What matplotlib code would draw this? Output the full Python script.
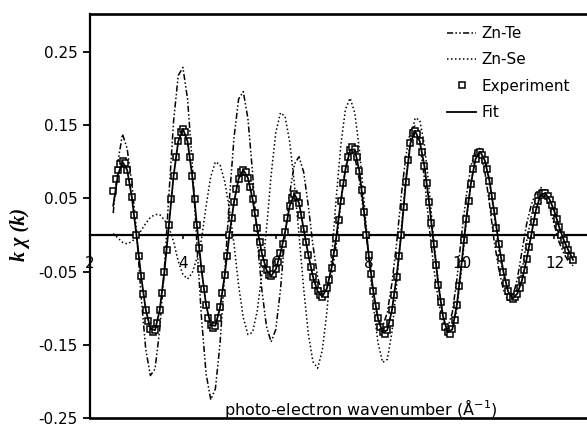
import numpy as np
import matplotlib
matplotlib.use('Agg')
import matplotlib.pyplot as plt

plt.rcParams['font.family'] = ['DejaVu Sans']
plt.rcParams['mathtext.default'] = 'regular'

# experiment (k grid 2.50 .. 12.40, step 0.05)
k_exp = np.linspace(2.5, 12.4, 199)
chi_exp = [
    0.060, 0.076, 0.089, 0.097, 0.101, 0.099, 0.089, 0.073, 0.052, 0.027,
    0.000, -0.029, -0.056, -0.081, -0.102, -0.118, -0.128, -0.133, -0.130, -0.120,
    -0.103, -0.079, -0.051, -0.020, 0.014, 0.049, 0.081, 0.107, 0.128, 0.141,
    0.145, 0.141, 0.128, 0.107, 0.081, 0.049, 0.014, -0.018, -0.047, -0.074,
    -0.096, -0.113, -0.123, -0.127, -0.124, -0.114, -0.099, -0.079, -0.055, -0.028,
    0.000, 0.023, 0.045, 0.063, 0.077, 0.086, 0.089, 0.086, 0.078, 0.066,
    0.049, 0.030, 0.009, -0.010, -0.025, -0.038, -0.048, -0.054, -0.056, -0.053,
    -0.047, -0.037, -0.025, -0.012, 0.004, 0.023, 0.040, 0.051, 0.056, 0.054,
    0.044, 0.028, 0.008, -0.010, -0.027, -0.043, -0.057, -0.068, -0.077, -0.082,
    -0.084, -0.081, -0.073, -0.061, -0.045, -0.025, -0.004, 0.021, 0.047, 0.071,
    0.090, 0.106, 0.116, 0.120, 0.117, 0.106, 0.087, 0.062, 0.032, 0.000,
    -0.027, -0.053, -0.077, -0.097, -0.114, -0.126, -0.133, -0.135, -0.130, -0.120,
    -0.103, -0.082, -0.057, -0.029, 0.000, 0.038, 0.073, 0.103, 0.126, 0.139,
    0.142, 0.138, 0.128, 0.114, 0.094, 0.071, 0.045, 0.017, -0.012, -0.041,
    -0.068, -0.091, -0.111, -0.125, -0.133, -0.135, -0.129, -0.116, -0.095, -0.069,
    -0.039, -0.007, 0.022, 0.047, 0.070, 0.090, 0.104, 0.112, 0.114, 0.110,
    0.102, 0.090, 0.074, 0.054, 0.033, 0.009, -0.012, -0.032, -0.050, -0.066,
    -0.077, -0.085, -0.087, -0.085, -0.080, -0.072, -0.062, -0.048, -0.033, -0.017,
    0.000, 0.018, 0.034, 0.047, 0.055, 0.058, 0.057, 0.054, 0.048, 0.041,
    0.032, 0.022, 0.011, 0.000, -0.007, -0.014, -0.021, -0.028, -0.034,
]

# fit and theory curves (k grid 2.5 .. 12.4, step 0.1)
k_fit = np.linspace(2.5, 12.4, 100)
chi_fit = [
    0.040, 0.082, 0.100, 0.089, 0.052, 0.000, -0.056, -0.102, -0.128, -0.130,
    -0.103, -0.051, 0.014, 0.081, 0.128, 0.145, 0.128, 0.081, 0.014, -0.047,
    -0.096, -0.123, -0.124, -0.099, -0.055, 0.000, 0.045, 0.077, 0.089, 0.078,
    0.049, 0.009, -0.025, -0.048, -0.056, -0.047, -0.025, 0.004, 0.040, 0.056,
    0.044, 0.008, -0.027, -0.057, -0.077, -0.084, -0.073, -0.045, -0.004, 0.047,
    0.090, 0.116, 0.117, 0.087, 0.032, -0.027, -0.077, -0.114, -0.133, -0.130,
    -0.103, -0.057, 0.000, 0.073, 0.126, 0.142, 0.128, 0.094, 0.045, -0.012,
    -0.068, -0.111, -0.133, -0.129, -0.095, -0.039, 0.022, 0.070, 0.104, 0.114,
    0.102, 0.074, 0.033, -0.012, -0.050, -0.077, -0.087, -0.080, -0.062, -0.033,
    0.000, 0.034, 0.055, 0.057, 0.048, 0.032, 0.011, -0.007, -0.021, -0.034,
]

k_th = np.linspace(2.5, 12.4, 100)
chi_znte = [
    0.030, 0.100, 0.138, 0.118, 0.071, 0.007, -0.083, -0.156, -0.192, -0.183,
    -0.130, -0.047, 0.056, 0.156, 0.218, 0.229, 0.186, 0.099, -0.011, -0.113,
    -0.190, -0.225, -0.210, -0.148, -0.053, 0.048, 0.133, 0.186, 0.196, 0.159,
    0.085, -0.007, -0.075, -0.125, -0.146, -0.129, -0.075, 0.000, 0.057, 0.097,
    0.107, 0.086, 0.040, -0.014, -0.057, -0.082, -0.082, -0.057, -0.014, 0.043,
    0.092, 0.114, 0.107, 0.075, 0.027, -0.030, -0.082, -0.116, -0.125, -0.106,
    -0.066, -0.012, 0.053, 0.108, 0.143, 0.149, 0.125, 0.077, 0.013, -0.044,
    -0.090, -0.120, -0.127, -0.106, -0.060, 0.000, 0.053, 0.094, 0.116, 0.114,
    0.087, 0.043, -0.008, -0.046, -0.075, -0.089, -0.085, -0.060, -0.022, 0.015,
    0.041, 0.058, 0.062, 0.054, 0.037, 0.013, -0.010, -0.025, -0.036, -0.042,
]
chi_znse = [
    0.002, -0.004, -0.010, -0.012, -0.009, -0.003, 0.006, 0.016, 0.024, 0.028,
    0.028, 0.021, 0.010, -0.009, -0.036, -0.054, -0.060, -0.052, -0.032, -0.006,
    0.040, 0.080, 0.100, 0.096, 0.073, 0.036, -0.012, -0.069, -0.113, -0.136,
    -0.133, -0.104, -0.054, 0.008, 0.082, 0.140, 0.167, 0.162, 0.127, 0.070,
    0.000, -0.073, -0.135, -0.173, -0.182, -0.158, -0.105, -0.032, 0.050, 0.123,
    0.172, 0.187, 0.167, 0.117, 0.047, -0.029, -0.096, -0.147, -0.174, -0.170,
    -0.133, -0.069, 0.007, 0.077, 0.132, 0.160, 0.157, 0.123, 0.064, -0.006,
    -0.066, -0.113, -0.138, -0.134, -0.101, -0.046, 0.017, 0.070, 0.107, 0.120,
    0.108, 0.075, 0.027, -0.020, -0.056, -0.081, -0.090, -0.079, -0.050, -0.009,
    0.026, 0.053, 0.065, 0.061, 0.048, 0.026, 0.000, -0.012, -0.030, np.nan,
]

y_ticks = [-0.25, -0.15, -0.05, 0.05, 0.15, 0.25]
x_ticks = [2, 4, 6, 8, 10, 12]

fig = plt.figure(figsize=(5.87, 4.30), dpi=100)
ax = fig.add_axes([90 / 587, 12 / 430, 1 - 90 / 587, 404 / 430])

ax.plot(k_th, chi_znte, color='black', lw=1.1, dashes=(4, 1.5, 1, 1.5, 1, 1.5), label='Zn-Te')
ax.plot(k_th, chi_znse, color='black', lw=1.1, dashes=(1, 1.6), label='Zn-Se')
ax.plot(k_exp, chi_exp, ls='none', marker='s', ms=4.6, mfc='white', mec='black',
        mew=1.1, label='Experiment', zorder=3)
ax.plot(k_fit, chi_fit, color='black', lw=1.3, label='Fit', zorder=4)

ax.set_xlim(2, 12.7)
ax.set_ylim(-0.25, 0.302)

ax.spines['right'].set_visible(False)
ax.spines['bottom'].set_position(('data', 0))
for s in ['left', 'top', 'bottom']:
    ax.spines[s].set_linewidth(1.6)
ax.spines['top'].set_linewidth(1.9)
ax.axhline(-0.25, color='black', lw=1.9, clip_on=False)

ax.set_yticks(y_ticks)
ax.set_yticklabels(['%.2f' % v for v in y_ticks])
ax.set_xticks(x_ticks)
ax.set_xticklabels([str(v) for v in x_ticks])
ax.tick_params(axis='y', direction='out', length=5, width=1.3, pad=4, labelsize=11)
ax.tick_params(axis='x', direction='out', length=3, width=1.1, pad=12, labelsize=11)

ax.text(7.83, -0.2365, 'photo-electron wavenumber (Å$^{-1}$)', ha='center', va='center',
        fontsize=11.5)
fig.text(20 / 587, 1 - 234 / 430, 'k χ (k)', rotation=90, ha='center', va='center',
         fontsize=14.5, fontweight='bold', fontstyle='italic', family='Liberation Serif')

ax.legend(loc='upper left', bbox_to_anchor=(447 / 587, 1 - 26 / 430),
          bbox_transform=fig.transFigure, frameon=False, fontsize=11,
          borderpad=0, borderaxespad=0, handlelength=1.9, handletextpad=0.35,
          labelspacing=0.74)

fig.savefig('out.png', dpi=100)
